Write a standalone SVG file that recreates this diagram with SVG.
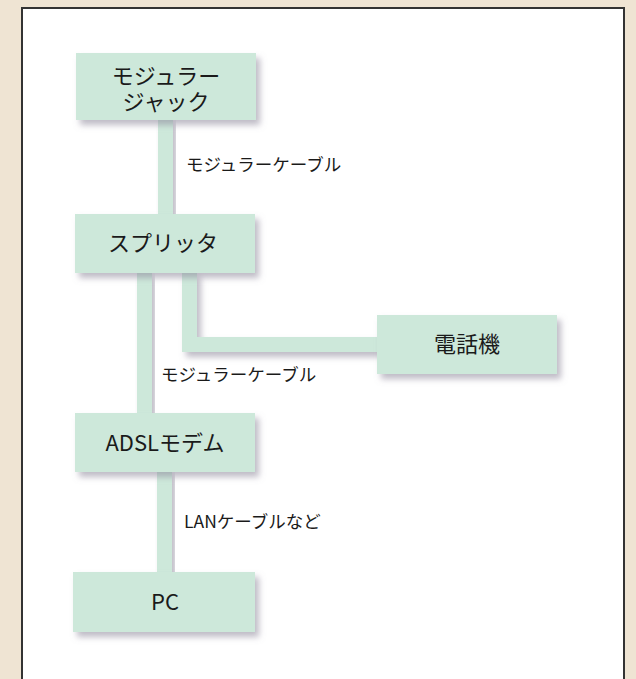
<svg xmlns="http://www.w3.org/2000/svg" width="636" height="679" viewBox="0 0 636 679">
<defs>
<filter id="sh" x="-10%" y="-10%" width="130%" height="140%">
<feDropShadow dx="4" dy="5" stdDeviation="3" flood-color="#8a8598" flood-opacity="0.55"/>
</filter>
<style>
.box{fill:#cde8da;filter:url(#sh)}
.cab{fill:#cde8da;filter:url(#sh)}
.t{font-family:"Noto Sans CJK JP","Noto Sans",sans-serif;fill:#1a1a1a;text-anchor:middle;font-size:22px}
.l{font-family:"Noto Sans CJK JP","Noto Sans",sans-serif;fill:#1a1a1a;font-size:17.5px}
</style>
</defs>
<rect x="0" y="0" width="636" height="679" fill="#efe4d3"/>
<rect x="22" y="8" width="602" height="690" fill="#ffffff" stroke="#333" stroke-width="2"/>
<g id="connectors">
<rect class="cab" x="158" y="118" width="15" height="98"/>
<rect class="cab" x="137" y="272" width="15" height="142"/>
<path class="cab" d="M182 272 H197 V337 H380 V352 H182 Z"/>
<rect class="cab" x="157" y="470" width="15" height="104"/>
<text class="l" x="186" y="171">モジュラーケーブル</text>
<text class="l" x="161" y="381">モジュラーケーブル</text>
<text class="l" x="184" y="528">LANケーブルなど</text>
</g>
<g id="jack">
<rect class="box" x="76" y="53" width="180" height="67"/>
<text class="t" x="166" y="84">モジュラー</text>
<text class="t" x="166" y="110">ジャック</text>
</g>
<g id="splitter">
<rect class="box" x="75" y="214" width="180" height="59"/>
<text class="t" x="163" y="251">スプリッタ</text>
</g>
<g id="phone">
<rect class="box" x="377" y="315" width="180" height="59"/>
<text class="t" x="467" y="352">電話機</text>
</g>
<g id="modem">
<rect class="box" x="75" y="413" width="180" height="59"/>
<text class="t" x="165" y="451">ADSLモデム</text>
</g>
<g id="pc">
<rect class="box" x="73" y="572" width="182" height="60"/>
<text class="t" x="165" y="610">PC</text>
</g>
</svg>
